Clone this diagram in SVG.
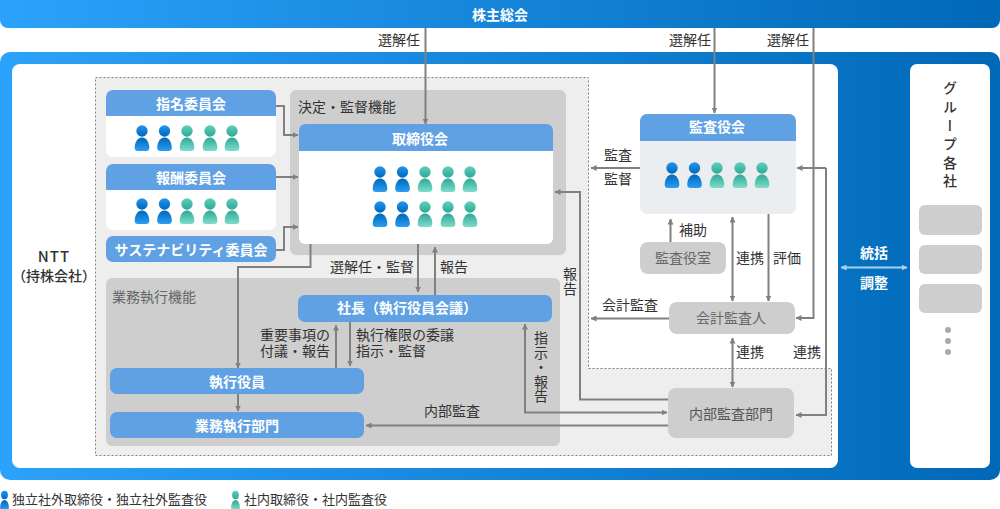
<svg xmlns="http://www.w3.org/2000/svg" xmlns:xlink="http://www.w3.org/1999/xlink" width="1000" height="509" viewBox="0 0 1000 509">
<style>
text{font-family:"Noto Sans CJK JP","Noto Sans",sans-serif;font-size:14px;fill:#333}
.m{text-anchor:middle}
.h{font-weight:700;fill:#fff;text-anchor:middle;font-size:14px}
.g{fill:#666;text-anchor:middle}
.v{writing-mode:vertical-rl;text-anchor:start;text-orientation:upright;font-kerning:none;letter-spacing:.4px}
.hd{fill:#5fa1e3}
.gr{fill:#cecece}
.c path{fill:none;stroke:#808080;stroke-width:2}
.c path.a{marker-end:url(#ah)}
.c path.d{marker-start:url(#as);marker-end:url(#ah)}
</style>
<defs>
<linearGradient id="bar" x1="0" x2="1" y1="0" y2="0"><stop offset="0" stop-color="#2ba2fb"/><stop offset="1" stop-color="#0068b7"/></linearGradient>
<linearGradient id="bh" x1="0" x2="0" y1="0" y2="1"><stop offset="0" stop-color="#2196f3"/><stop offset="1" stop-color="#0068b7"/></linearGradient>
<linearGradient id="bb" x1="0" x2="0" y1="0" y2="1"><stop offset="0" stop-color="#0068b7"/><stop offset="1" stop-color="#2a9df4"/></linearGradient>
<linearGradient id="th" x1="0" x2="0" y1="0" y2="1"><stop offset="0" stop-color="#5fd0bb"/><stop offset="1" stop-color="#2fa896"/></linearGradient>
<linearGradient id="tb" x1="0" x2="0" y1="0" y2="1"><stop offset="0" stop-color="#2fa896"/><stop offset="1" stop-color="#7fdccb"/></linearGradient>
<g id="pb"><circle cx="0" cy="0" r="5.7" fill="url(#bh)"/><path d="M-7.300 17C-7.300 19 -6 20 -4 20H4C6 20 7.300 19 7.300 17C7.300 12 5 6.500 0 6.500C-5 6.500 -7.300 12 -7.300 17Z" fill="url(#bb)"/></g>
<g id="pt"><circle cx="0" cy="0" r="5.7" fill="url(#th)"/><path d="M-7.300 17C-7.300 19 -6 20 -4 20H4C6 20 7.300 19 7.300 17C7.300 12 5 6.500 0 6.500C-5 6.500 -7.300 12 -7.300 17Z" fill="url(#tb)"/></g>
<g id="five"><use xlink:href="#pb" href="#pb" x="0"/><use xlink:href="#pb" href="#pb" x="22.500"/><use xlink:href="#pt" href="#pt" x="45"/><use xlink:href="#pt" href="#pt" x="68"/><use xlink:href="#pt" href="#pt" x="90"/></g>
<marker id="ah" viewBox="0 0 6 6" refX="5.500" refY="3" markerWidth="6" markerHeight="6" markerUnits="userSpaceOnUse" orient="auto"><path d="M0 0L6 3L0 6Z" fill="#808080"/></marker>
<marker id="as" viewBox="0 0 6 6" refX="0.500" refY="3" markerWidth="6" markerHeight="6" markerUnits="userSpaceOnUse" orient="auto"><path d="M6 0L0 3L6 6Z" fill="#808080"/></marker>
<marker id="wh" viewBox="0 0 6 6" refX="5.500" refY="3" markerWidth="6" markerHeight="6" markerUnits="userSpaceOnUse" orient="auto"><path d="M0 0L6 3L0 6Z" fill="#a9cff0"/></marker>
<marker id="ws" viewBox="0 0 6 6" refX="0.500" refY="3" markerWidth="6" markerHeight="6" markerUnits="userSpaceOnUse" orient="auto"><path d="M6 0L0 3L6 6Z" fill="#a9cff0"/></marker>
</defs>
<rect width="1000" height="509" fill="#fff"/>
<g id="shareholders"><path d="M0 0H1000V20A8 8 0 0 1 992 28H8A8 8 0 0 1 0 20Z" fill="url(#bar)"/><text x="500" y="20" class="h">株主総会</text></g>
<rect id="ntt-band" x="0" y="52" width="1000" height="428" rx="10" fill="url(#bar)"/>
<g id="ntt"><rect x="12" y="64" width="826" height="404" rx="8" fill="#fff"/><text x="54" y="262" class="m" font-weight="500" style="font-size:15px;letter-spacing:1px">NTT</text><text x="54" y="281" class="m" font-weight="500">（持株会社）</text></g>
<path id="dash-area" d="M95.500 77.500H588.500V368.500H831.500V455.500H95.500Z" fill="#eee" stroke="#808080" stroke-dasharray="2 2"/>
<g id="decision"><rect x="290" y="90" width="276" height="165" rx="6" class="gr"/><text x="298" y="112">決定・監督機能</text></g>
<g id="exec-func"><rect x="106" y="278" width="454" height="168" rx="6" class="gr"/><text x="112" y="302" style="fill:#666">業務執行機能</text></g>
<g id="nominating"><rect x="106" y="90" width="170" height="67" rx="7" fill="#fff"/><path d="M106 116V97A7 7 0 0 1 113 90H269A7 7 0 0 1 276 97V116Z" class="hd"/><text x="191" y="109" class="h">指名委員会</text><use xlink:href="#five" href="#five" x="142" y="131"/></g>
<g id="compensation"><rect x="106" y="164" width="170" height="66" rx="7" fill="#fff"/><path d="M106 190V171A7 7 0 0 1 113 164H269A7 7 0 0 1 276 171V190Z" class="hd"/><text x="191" y="183" class="h">報酬委員会</text><use xlink:href="#five" href="#five" x="142" y="204"/></g>
<g id="sustainability"><rect x="106" y="236" width="170" height="26" rx="7" class="hd"/><text x="191" y="255" class="h">サステナビリティ委員会</text></g>
<g id="board"><rect x="299" y="124" width="254" height="120" rx="6" fill="#fff"/><path d="M299 151V130A6 6 0 0 1 305 124H547A6 6 0 0 1 553 130V151Z" class="hd"/><text x="420" y="144" class="h">取締役会</text><use xlink:href="#five" href="#five" x="380" y="172"/><use xlink:href="#five" href="#five" x="380" y="207"/></g>
<g id="president"><rect x="298" y="295" width="254" height="27" rx="7" class="hd"/><text x="407" y="313" class="h">社長（執行役員会議）</text></g>
<g id="officers"><rect x="110" y="368" width="254" height="26" rx="7" class="hd"/><text x="237" y="387" class="h">執行役員</text></g>
<g id="exec-dept"><rect x="110" y="412" width="254" height="26" rx="7" class="hd"/><text x="237" y="431" class="h">業務執行部門</text></g>
<g id="auditors"><rect x="640" y="114" width="156" height="100" rx="7" fill="#ebeef1"/><path d="M640 141V121A7 7 0 0 1 647 114H789A7 7 0 0 1 796 121V141Z" class="hd"/><text x="717" y="132" class="h">監査役会</text><use xlink:href="#five" href="#five" x="672" y="168"/></g>
<g id="auditors-office"><rect x="640" y="242" width="86" height="32" rx="8" class="gr"/><text x="683" y="263" class="g">監査役室</text></g>
<g id="accounting-auditor"><rect x="669" y="302" width="126" height="32" rx="8" class="gr"/><text x="731" y="323" class="g">会計監査人</text></g>
<g id="internal-audit"><rect x="668" y="388" width="126" height="50" rx="8" class="gr"/><text x="731" y="419" class="g" style="fill:#555">内部監査部門</text></g>
<g id="group"><rect x="910" y="64" width="80" height="404" rx="7" fill="#fff"/><text x="950" y="81" class="v" font-weight="500" style="letter-spacing:4.600px">グループ各社</text>
<rect x="919" y="205" width="63" height="30" rx="6" class="gr"/><rect x="919" y="245" width="63" height="29" rx="6" class="gr"/><rect x="919" y="284" width="63" height="29" rx="6" class="gr"/>
<circle cx="948" cy="330" r="3" fill="#aaa"/><circle cx="948" cy="341" r="3" fill="#aaa"/><circle cx="948" cy="352" r="3" fill="#aaa"/></g>
<g id="connectors" class="c">
<path class="a" d="M425.500 28V124"/>
<path class="a" d="M714.500 28V113"/>
<path class="a" d="M813.500 28V318H796"/>
<path class="a" d="M826 168H797"/>
<path class="a" d="M826 168V415H796"/>
<path class="a" d="M276 106H284V135H298"/>
<path class="a" d="M276 177H298"/>
<path class="a" d="M276 250H284V227H298"/>
<path class="a" d="M310.500 244V267H238V368"/>
<path class="a" d="M418 244V292"/>
<path class="a" d="M435 295V247"/>
<path class="a" d="M238 394V411"/>
<path class="a" d="M336 368V325"/>
<path class="a" d="M350 322V366"/>
<path class="a" d="M640 168H591"/>
<path class="a" d="M670.500 242V219"/>
<path class="d" d="M732.500 217V301"/>
<path class="a" d="M768.500 214V301"/>
<path class="a" d="M669 318.500H591"/>
<path class="d" d="M732.500 338V387"/>
<path class="a" d="M668 399.500H580V192H555"/>
<path class="d" d="M525 324V412.500H667"/>
<path class="a" d="M668 425.500H366"/>
<path d="M841 267.500H907" style="stroke:#a9cff0;marker-start:url(#ws);marker-end:url(#wh)"/>
</g>
<g id="labels">
<text x="399" y="45" class="m">選解任</text>
<text x="690" y="45" class="m">選解任</text>
<text x="788" y="45" class="m">選解任</text>
<text x="618" y="160" class="m">監査</text>
<text x="618" y="184" class="m">監督</text>
<text x="693" y="235" class="m">補助</text>
<text x="750" y="263" class="m">連携</text>
<text x="787" y="263" class="m">評価</text>
<text x="630" y="310" class="m">会計監査</text>
<text x="750" y="357" class="m">連携</text>
<text x="807" y="357" class="m">連携</text>
<text x="372" y="272" class="m">選解任・監督</text>
<text x="454" y="272" class="m">報告</text>
<text x="570" y="267" class="v">報告</text>
<text x="541" y="331" class="v">指示・報告</text>
<text text-anchor="end"><tspan x="330" y="340">重要事項の</tspan><tspan x="330" y="356">付議・報告</tspan></text>
<text><tspan x="356" y="340">執行権限の委譲</tspan><tspan x="356" y="356">指示・監督</tspan></text>
<text x="452" y="416" class="m">内部監査</text>
<text x="874" y="258" class="h">統括</text>
<text x="874" y="288" class="h">調整</text>
</g>
<g id="legend">
<g transform="translate(4.500 495) scale(.6 .75)"><use xlink:href="#pb" href="#pb"/></g><text x="12" y="504" style="font-size:13px">独立社外取締役・独立社外監査役</text>
<g transform="translate(235.500 495) scale(.6 .75)"><use xlink:href="#pt" href="#pt"/></g><text x="244" y="504" style="font-size:13px">社内取締役・社内監査役</text>
</g>
</svg>
